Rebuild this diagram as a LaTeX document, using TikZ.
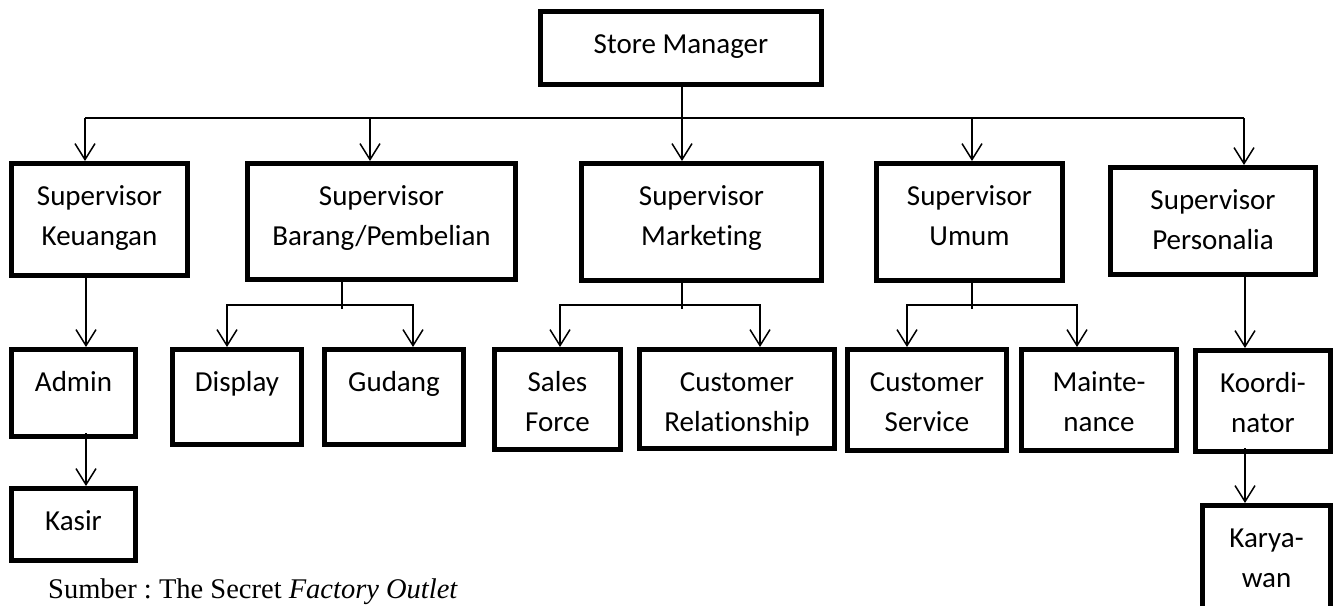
\documentclass[tikz,border=0pt]{standalone}
\usepackage{fontspec}
\setmainfont[Ligatures=NoCommon]{Carlito}
\newfontfamily\capfont{Liberation Serif}
\usetikzlibrary{arrows.meta}
\frenchspacing

\begin{document}
\begin{tikzpicture}[x=1pt,y=-1pt,
  box/.style={draw, line width=4.6pt, inner sep=0pt, anchor=north west},
  txt/.style={anchor=north, yshift=-16pt, inner sep=0pt, align=center,
              font=\fontsize{29}{40}\selectfont},
  link/.style={line width=1.5pt},
  arr/.style={link, -{Straight Barb[length=16pt,width=20pt]}},
  arr2/.style={link, {Straight Barb[length=16pt,width=20pt]}-{Straight Barb[length=16pt,width=20pt]}}
]
\useasboundingbox (0,0) rectangle (1335,605);
\clip (0,0) rectangle (1335,605);

% top level
\node[box, minimum width=281.4pt, minimum height=73.4pt,
      label={[txt]north:\strut Store Manager}] (sm) at (538,9) {};

% supervisors
\node[box, minimum width=176.4pt, minimum height=112.4pt,
      label={[txt]north:\strut Supervisor\\Keuangan}] (keu) at (9,161) {};
\node[box, minimum width=268.4pt, minimum height=116.4pt,
      label={[txt]north:\strut Supervisor\\Barang/Pembelian}] (bar) at (245,161) {};
\node[box, minimum width=240.4pt, minimum height=117.4pt,
      label={[txt]north:\strut Supervisor\\Marketing}] (mkt) at (579,161) {};
\node[box, minimum width=186.4pt, minimum height=117.4pt,
      label={[txt]north:\strut Supervisor\\Umum}] (umum) at (874,161) {};
\node[box, minimum width=205.4pt, minimum height=107.4pt,
      label={[txt]north:\strut Supervisor\\Personalia}] (pers) at (1108,165) {};

% staff
\node[box, minimum width=124.4pt, minimum height=87.4pt,
      label={[txt]north:\strut Admin}] (admin) at (9,347) {};
\node[box, minimum width=124.4pt, minimum height=72.4pt,
      label={[txt]north:\strut Kasir}] (kasir) at (9,486) {};
\node[box, minimum width=129.4pt, minimum height=95.4pt,
      label={[txt]north:\strut Display}] (dsp) at (170,347) {};
\node[box, minimum width=139.4pt, minimum height=95.4pt,
      label={[txt]north:\strut Gudang}] (gud) at (322,347) {};
\node[box, minimum width=126.4pt, minimum height=100.4pt,
      label={[txt]north:\strut Sales\\Force}] (sales) at (492,347) {};
\node[box, minimum width=195.4pt, minimum height=99.4pt,
      label={[txt]north:\strut Customer\\Relationship}] (crel) at (637,347) {};
\node[box, minimum width=159.4pt, minimum height=101.4pt,
      label={[txt]north:\strut Customer\\Service}] (cserv) at (845,347) {};
\node[box, minimum width=155.4pt, minimum height=101.4pt,
      label={[txt]north:\strut Mainte-\\nance}] (maint) at (1019,347) {};
\node[box, minimum width=135.4pt, minimum height=101.4pt,
      label={[txt]north:\strut Koordi-\\nator}] (koord) at (1193,348) {};
\node[box, minimum width=128.4pt, minimum height=117.4pt,
      label={[txt]north:\strut Karya-\\wan}] (kary) at (1200,503) {};

% connector coordinates
\coordinate (bL) at (85,118);
\coordinate (bB) at (370,118);
\coordinate (tr) at (682,118);
\coordinate (bU) at (972,118);
\coordinate (bR) at (1244,118);

% store manager to supervisors
\draw[link] (bL) -- (bR);
\draw[arr] (tr |- sm.south) -- (tr |- mkt.north);
\draw[arr] (bL) -- (bL |- keu.north);
\draw[arr] (bB) -- (bB |- bar.north);
\draw[arr] (bU) -- (bU |- umum.north);
\draw[arr] (bR) -- (bR |- pers.north);

% keuangan branch
\coordinate (cK) at (86,0);
\coordinate (aK) at (86,433);
\draw[arr] (cK |- keu.south) -- (cK |- admin.north);
\draw[arr] (aK) -- (aK |- kasir.north);

% barang branch
\coordinate (sB) at (342,309);
\coordinate (hB1) at (227,305);
\coordinate (hB2) at (413,305);
\draw[link] (sB |- bar.south) -- (sB);
\draw[arr2] (hB1 |- dsp.north) -- (hB1) -- (hB2) -- (hB2 |- gud.north);

% marketing branch
\coordinate (sM) at (682,309);
\coordinate (hM1) at (560,305);
\coordinate (hM2) at (760,305);
\draw[link] (sM |- mkt.south) -- (sM);
\draw[arr2] (hM1 |- sales.north) -- (hM1) -- (hM2) -- (hM2 |- crel.north);

% umum branch
\coordinate (sU) at (972,309);
\coordinate (hU1) at (907,305);
\coordinate (hU2) at (1077,305);
\draw[link] (sU |- umum.south) -- (sU);
\draw[arr2] (hU1 |- cserv.north) -- (hU1) -- (hU2) -- (hU2 |- maint.north);

% personalia branch
\coordinate (pP) at (1245,0);
\coordinate (kP) at (1245,448);
\draw[arr] (pP |- pers.south) -- (pP |- koord.north);
\draw[arr] (kP) -- (kP |- kary.north);

% source line
\node[anchor=base west, inner sep=0pt, font=\capfont\fontsize{28.5}{34}\selectfont]
  (src) at (48,598) {Sumber : The Secret \textit{Factory Outlet}};
\end{tikzpicture}
\end{document}
